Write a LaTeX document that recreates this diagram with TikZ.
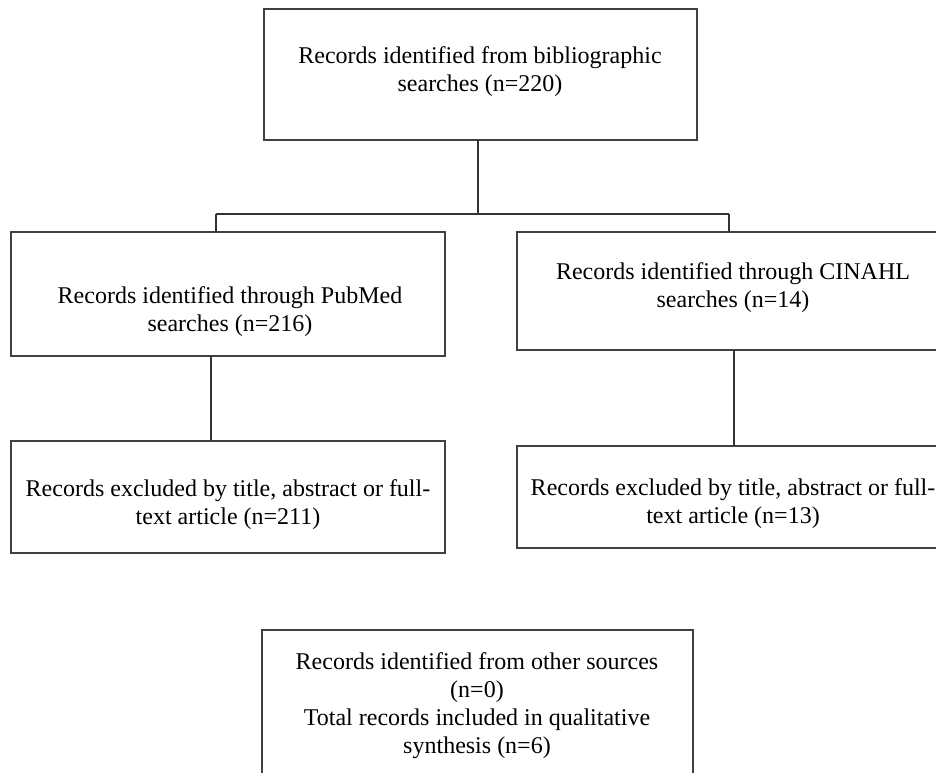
\documentclass[tikz,border=0pt]{standalone}
\usepackage{fontspec}
\setmainfont{Liberation Serif}
\usetikzlibrary{positioning,calc}

\begin{document}
\begin{tikzpicture}[
    x=0.5pt,
    y=-0.5pt,
    box/.style={
        rectangle,
        draw=black!75,
        line width=0.75pt,
        inner sep=0pt,
        outer sep=0pt
    },
    txt/.style={
        align=center,
        inner sep=0pt,
        font=\fontsize{12}{14}\selectfont
    },
    link/.style={
        draw=black!80,
        line width=0.75pt
    }
]
\clip (0,0) rectangle (936,772);

% Search boxes
\node[box, minimum width=216.5pt, minimum height=65.5pt] (search) at (480.5,74.5) {};
\node[box, minimum width=217pt, minimum height=62pt] (pubmed) at (228,294) {};
\node[box, minimum width=217pt, minimum height=59pt] (cinahl) at (734,291) {};

% Exclusion boxes
\node[box, minimum width=217pt, minimum height=56pt] (exclpub) at (228,497) {};
\node[box, minimum width=217pt, minimum height=51pt] (exclcin) at (734,497) {};

% Final box
\node[box, minimum width=215.5pt, minimum height=80pt] (other) at (477.5,710) {};

% Box texts
\node[txt] (searchtxt) at (480,72) {Records identified from bibliographic\\searches (n=220)};
\node[txt] (pubmedtxt) at (230,312) {Records identified through PubMed\\searches (n=216)};
\node[txt] (cinahltxt) at (733,288) {Records identified through CINAHL\\searches (n=14)};
\node[txt] (exclpubtxt) at (228,505) {Records excluded by title, abstract or full-\\text article (n=211)};
\node[txt] (exclcintxt) at (733,504) {Records excluded by title, abstract or full-\\text article (n=13)};
\node[txt] (othertxt) at (477,706) {Records identified from other sources\\(n=0)\\Total records included in qualitative\\synthesis (n=6)};

% Split below the first box
\coordinate (split) at (478,214);
\coordinate (splitl) at (216,214);
\coordinate (splitr) at (729,214);
\draw[link] (search.south -| split) -- (split);
\draw[link] (splitl) -- (splitr);
\draw[link] (splitl) -- (splitl |- pubmed.north);
\draw[link] (splitr) -- (splitr |- cinahl.north);

% Down to the exclusions
\coordinate (pubdrop) at (211,400);
\draw[link] (pubmed.south -| pubdrop) -- (exclpub.north -| pubdrop);
\draw[link] (cinahl) -- (exclcin);
\end{tikzpicture}
\end{document}
